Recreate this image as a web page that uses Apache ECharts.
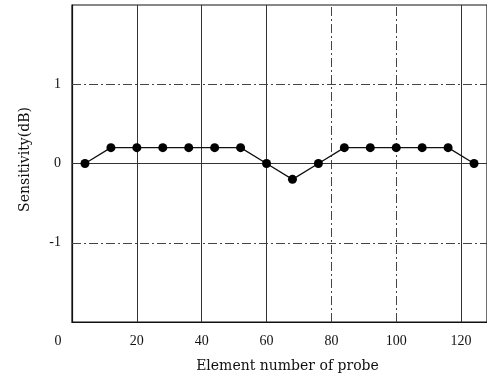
<!DOCTYPE html>
<html>
<head>
<meta charset="utf-8">
<script src="https://cdn.jsdelivr.net/npm/echarts@6/dist/echarts.min.js"></script>
<style>
  html, body { margin: 0; padding: 0; background: #fff; }
  #chart { width: 487px; height: 382px; }
</style>
</head>
<body>
<div id="chart"></div>
<script>
// element number of probe / sensitivity (dB)
const elements = [4, 12, 20, 28, 36, 44, 52, 60, 68, 76, 84, 92, 100, 108, 116, 124]
const sensitivity = [0, 0.2, 0.2, 0.2, 0.2, 0.2, 0.2, 0, -0.2, 0, 0.2, 0.2, 0.2, 0.2, 0.2, 0]
const xTicks = [0, 20, 40, 60, 80, 100, 120]
const yTicks = [-1, 0, 1]
// grid lines: which ones are solid, which dash-dot
const xGridSolid = [20, 40, 60, 120]
const xGridDashed = [80, 100]
const yGridSolid = [0]
const yGridDashed = [1, -1]

const font = 'Liberation Serif'
const nameFont = 'DejaVu Serif'
const dashDot = [9, 3, 2, 3]

const chart = echarts.init(document.getElementById('chart'))

const gridLines = [
  ...xGridSolid.map(v => ({ xAxis: v, lineStyle: { type: 'solid', color: '#333' } })),
  ...xGridDashed.map(v => ({ xAxis: v, lineStyle: { type: dashDot, color: '#444' } })),
  ...yGridSolid.map(v => ({ yAxis: v, lineStyle: { type: 'solid', color: '#333' } })),
  ...yGridDashed.map(v => ({ yAxis: v, lineStyle: { type: dashDot, color: '#444' } }))
]

chart.setOption({
  animation: false,
  grid: {
    left: 72, right: 0, top: 5, bottom: 60,
    show: true, borderColor: '#111', borderWidth: 1.2
  },
  xAxis: {
    type: 'value',
    min: 0, max: 128, interval: 20,
    name: 'Element number of probe',
    nameLocation: 'middle',
    nameGap: 37,
    nameTextStyle: { fontFamily: nameFont, fontSize: 14, color: '#111', padding: [0, 0, 0, 16] },
    axisLine: { show: true, onZero: false, lineStyle: { color: '#111', width: 1.2 } },
    axisTick: { show: false },
    splitLine: { show: false },
    axisLabel: {
      margin: 12,
      fontFamily: font, fontSize: 14, color: '#111',
      customValues: xTicks,
      formatter: v => v === 0 ? '{z|0}' : String(v),
      rich: { z: { fontFamily: font, fontSize: 14, color: '#111', padding: [0, 28, 0, 0] } }
    }
  },
  yAxis: {
    type: 'value',
    min: -2, max: 2, interval: 1,
    name: 'Sensitivity(dB)',
    nameLocation: 'middle',
    nameGap: 40,
    nameTextStyle: { fontFamily: nameFont, fontSize: 14, color: '#111', padding: [0, 0, 0, 8] },
    axisLine: { show: true, lineStyle: { color: '#111', width: 1.2 } },
    axisTick: { show: false },
    splitLine: { show: false },
    axisLabel: {
      margin: 11,
      fontFamily: font, fontSize: 14, color: '#111',
      customValues: yTicks
    }
  },
  series: [{
    type: 'line',
    data: elements.map((x, i) => [x, sensitivity[i]]),
    symbol: 'circle',
    symbolSize: 9,
    itemStyle: { color: '#000' },
    lineStyle: { color: '#111', width: 1.3 },
    markLine: {
      silent: true,
      symbol: 'none',
      label: { show: false },
      lineStyle: { width: 1 },
      data: gridLines
    },
    z: 5
  }]
})
</script>
</body>
</html>
